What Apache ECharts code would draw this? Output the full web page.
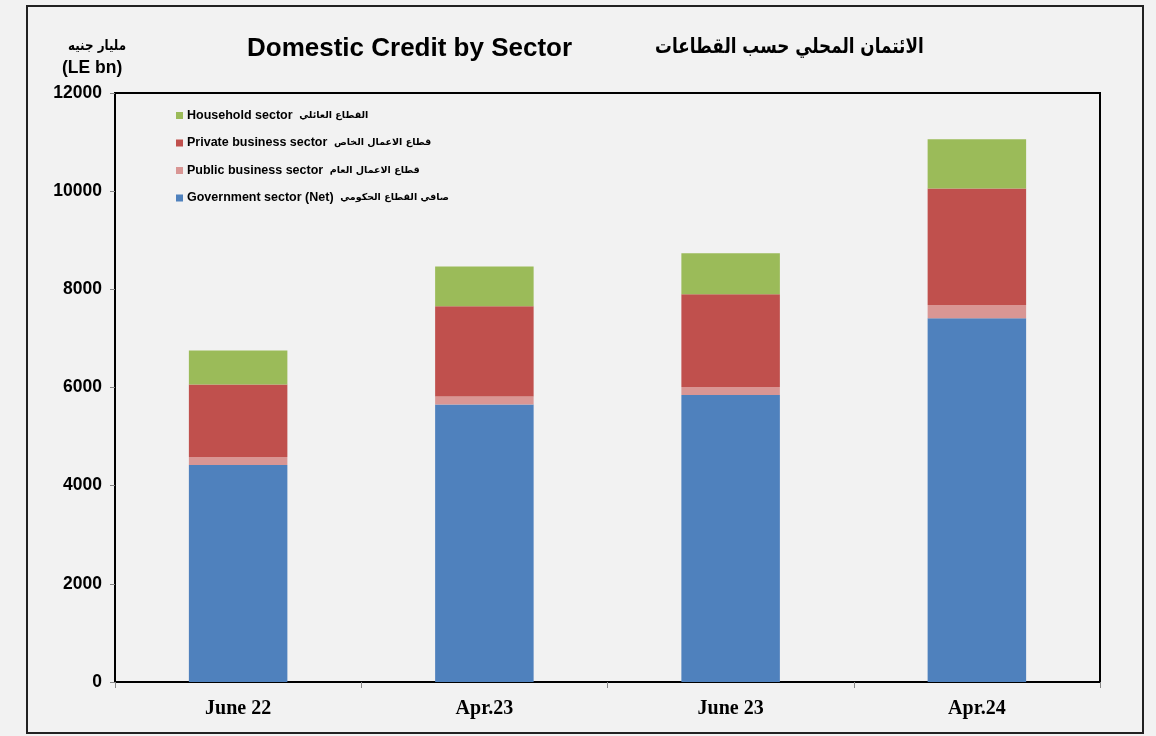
<!DOCTYPE html>
<html><head><meta charset="utf-8">
<script src="https://cdn.jsdelivr.net/npm/echarts@6/dist/echarts.min.js"></script>
<style>html,body{margin:0;padding:0;background:#f2f2f2;}#c{width:1156px;height:736px;}</style>
</head><body><div id="c"></div>
<script>
const categories = ['June 22', 'Apr.23', 'June 23', 'Apr.24'];
const government = [4420, 5655, 5845, 7410];
const publicBiz = [163, 163, 163, 273];
const privateBiz = [1480, 1838, 1892, 2372];
const household = [692, 808, 835, 1005];
const seriesNames = ['Government sector (Net)', 'Public business sector', 'Private business sector', 'Household sector'];
const seriesNamesAr = ['صافي القطاع الحكومي', 'قطاع الاعمال العام', 'قطاع الاعمال الخاص', 'القطاع العائلي'];
const yTicks = [0, 2000, 4000, 6000, 8000, 10000, 12000];
const colors = ['#4f81bd', '#d99694', '#c0504d', '#9bbb59'];

const chart = echarts.init(document.getElementById('c'));
const dataSets = [government, publicBiz, privateBiz, household];
chart.setOption({
  backgroundColor: '#f2f2f2',
  animation: false,
  grid: { left: 115, right: 56, top: 93, bottom: 54, show: true, borderColor: '#000', borderWidth: 2, backgroundColor: 'transparent' },
  legend: {
    orient: 'vertical', left: 171, top: 104, itemWidth: 7, itemHeight: 7, itemGap: 14.5,
    icon: 'rect',
    data: seriesNames.slice().reverse(),
    formatter: n => '{en|' + n + '}  {ar|' + seriesNamesAr[seriesNames.indexOf(n)] + '}',
    textStyle: { color: '#000', padding: [0, 0, 0, -1],
      rich: {
        en: { fontFamily: 'Liberation Sans, Arial', fontWeight: 'bold', fontSize: 12.5, color: '#000' },
        ar: { fontFamily: 'DejaVu Sans, Arial', fontWeight: 'bold', fontSize: 9.5, color: '#000' }
      } }
  },
  xAxis: {
    type: 'category', data: categories,
    axisLine: { lineStyle: { color: '#000', width: 2 } },
    axisTick: { show: true, length: 6, lineStyle: { color: '#888' } },
    axisLabel: { margin: 17, fontFamily: 'Liberation Serif, Times New Roman', fontWeight: 'bold', fontSize: 20, color: '#000' }
  },
  yAxis: {
    type: 'value', min: 0, max: 12000, interval: 2000,
    splitLine: { show: false },
    axisLine: { show: true, lineStyle: { color: '#000', width: 1 } },
    axisTick: { show: true, length: 5, lineStyle: { color: '#888' } },
    axisLabel: { margin: 13, fontFamily: 'Liberation Sans, Arial', fontWeight: 'bold', fontSize: 17.5, color: '#000',
      formatter: v => yTicks.includes(v) ? String(v) : '' }
  },
  series: dataSets.map((d, i) => ({
    name: seriesNames[i], type: 'bar', stack: 'total', data: d, barWidth: '40%',
    itemStyle: { color: colors[i] }
  })),
  graphic: [
    { type: 'rect', shape: { x: 27, y: 6, width: 1116, height: 727 }, style: { fill: 'none', stroke: '#222', lineWidth: 2 } },
    { type: 'text', x: 247, y: 36, style: { text: 'Domestic Credit by Sector', font: 'bold 26px "Liberation Sans", Arial', fill: '#000' } },
    { type: 'text', x: 655, y: 37, scaleX: 0.8, style: { text: 'الائتمان المحلي حسب القطاعات', font: 'bold 21px "DejaVu Sans", "Noto Sans", Arial', fill: '#000' } },
    { type: 'text', x: 68, y: 39, scaleX: 0.85, style: { text: 'مليار جنيه', font: 'bold 14px "DejaVu Sans", Arial', fill: '#000' } },
    { type: 'text', x: 62, y: 59, style: { text: '(LE bn)', font: 'bold 17.5px "Liberation Sans", Arial', fill: '#000' } }
  ]
});
</script></body></html>
